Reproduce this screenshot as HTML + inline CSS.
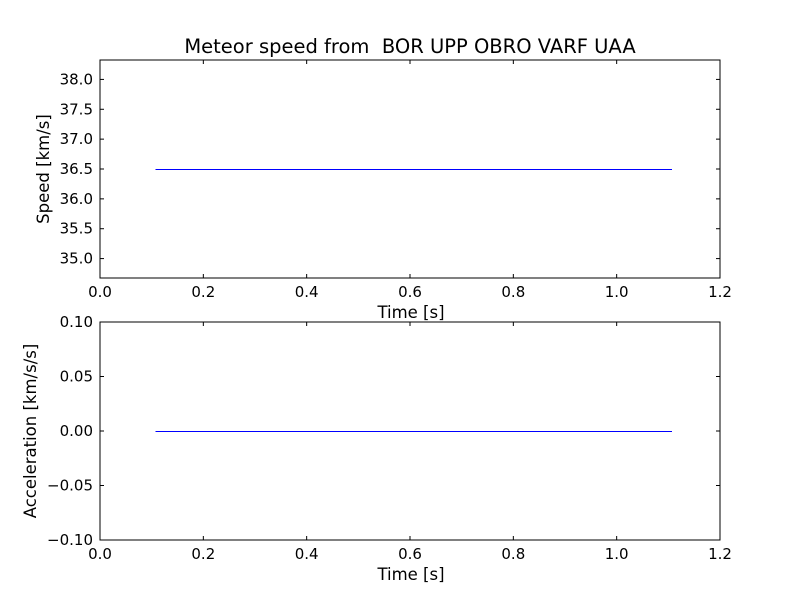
<!DOCTYPE html>
<html><head><meta charset="utf-8"><style>
body{margin:0;background:#fff;}
svg text{font-family:"DejaVu Sans","Liberation Sans",sans-serif;font-size:15px;fill:#000;white-space:pre;}
</style></head><body>
<svg id="chart" width="800" height="600" xmlns="http://www.w3.org/2000/svg">
<rect width="800" height="600" fill="#fff"/>
<text x="410" y="53" text-anchor="middle" xml:space="preserve" style="font-size:19.5px;white-space:pre">Meteor speed from  BOR UPP OBRO VARF UAA</text>
<g id="top"></g><g id="bot"></g>
</svg>
<script>
const xTicks=[0.0,0.2,0.4,0.6,0.8,1.0,1.2];
const speedTicks=[35.0,35.5,36.0,36.5,37.0,37.5,38.0];
const accelTicks=[-0.10,-0.05,0.00,0.05,0.10];
const time=[0.107,1.107];
const speed=[36.5,36.5];
const accel=[0.0,0.0];
const NS="http://www.w3.org/2000/svg";
function mk(p,t,a){const e=document.createElementNS(NS,t);for(const k in a)e.setAttribute(k,a[k]);p.appendChild(e);return e;}
function panel(g,top,bot,ymin,ymax,yt,yfmt,ylabel,ys,nm){
 const L=100,R=720;
 const xs=v=>L+(v-0)/(1.2-0)*(R-L);
 const yS=v=>bot-(v-ymin)/(ymax-ymin)*(bot-top);
 const fr=mk(g,'rect',{x:L,y:top,width:R-L,height:bot-top,fill:'none',stroke:'#000','stroke-width':1});
 
 
 xTicks.forEach(v=>{const x=xs(v);
  mk(g,'line',{x1:x,x2:x,y1:bot,y2:bot-4,stroke:'#000'});
  mk(g,'line',{x1:x,x2:x,y1:top,y2:top+4,stroke:'#000'});
  const t=mk(g,'text',{x:x,y:bot+19,'text-anchor':'middle'});t.textContent=v.toFixed(1);
  
  });
 yt.forEach(v=>{const y=yS(v);
  mk(g,'line',{x1:L,x2:L+4,y1:y,y2:y,stroke:'#000'});
  mk(g,'line',{x1:R,x2:R-4,y1:y,y2:y,stroke:'#000'});
  const t=mk(g,'text',{x:L-7,y:y+5,'text-anchor':'end'});t.textContent=yfmt(v);
  
  });
 const xl=mk(g,'text',{x:411,y:bot+40,'text-anchor':'middle',style:'font-size:16.5px'});xl.textContent='Time [s]';
 
 
 const cy=(top+bot)/2, lx=nm==='speed'?49:36;
 const yl=mk(g,'text',{x:lx,y:cy,'text-anchor':'middle',style:'font-size:16.5px',transform:`rotate(-90 ${lx} ${cy})`});yl.textContent=ylabel;
 
 
 const pts=time.map((t,i)=>xs(t)+','+(Math.round(yS(ys[i]))+0.5)).join(' ');
 const ln=mk(g,'polyline',{points:pts,fill:'none',stroke:'#0000ff','stroke-width':1,'shape-rendering':'crispEdges'});
 
 
}
const fmtNeg=v=>(v<0?'\u2212':'')+Math.abs(v).toFixed(2);
panel(document.getElementById('top'),60,278,34.675,38.325,speedTicks,v=>v.toFixed(1),'Speed [km/s]',speed,'speed');
panel(document.getElementById('bot'),322,540,-0.1,0.1,accelTicks,fmtNeg,'Acceleration [km/s/s]',accel,'acceleration');
</script>
</body></html>
